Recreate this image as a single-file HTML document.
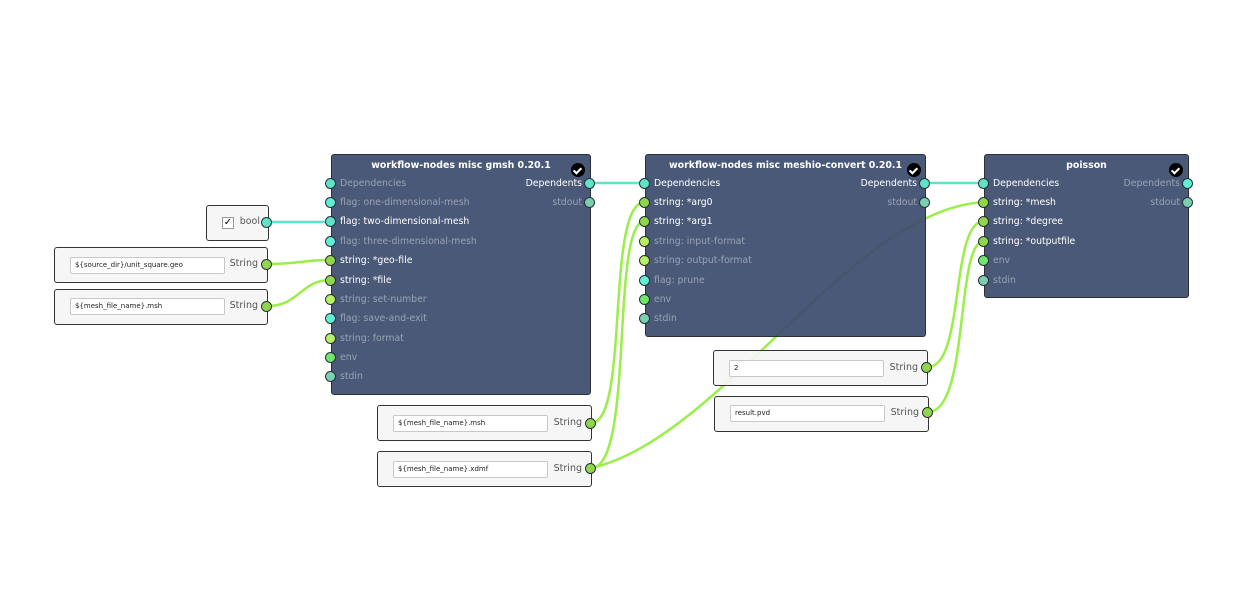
<!DOCTYPE html>
<html><head><meta charset="utf-8">
<style>
body{margin:0;width:1240px;height:600px;background:#fff;position:relative;overflow:hidden;font-family:"DejaVu Sans","Liberation Sans",sans-serif;}
.node{position:absolute;background:rgba(60,76,110,0.93);border:1.5px solid #2a2f38;border-radius:3px;box-sizing:border-box;}
.title{position:absolute;left:0;right:0;top:5px;text-align:center;color:#fff;font-weight:bold;font-size:9.4px;}
.check{position:absolute;width:14px;height:14px;border-radius:50%;background:#000;top:8px;}
.check:after{content:"";position:absolute;left:4px;top:2.5px;width:3px;height:6px;border:solid #fff;border-width:0 2px 2px 0;transform:rotate(45deg);}
.lbl{position:absolute;font-size:9.3px;color:#9aa3b4;white-space:nowrap;line-height:12px;}
.on{color:#fff;}
.r{text-align:right;}
.port{position:absolute;width:9px;height:9px;border-radius:50%;border:1.5px solid #2a2f38;}
.box{position:absolute;background:rgba(245,245,245,0.9);border:1.5px solid #333;border-radius:3px;box-sizing:border-box;}
.inp{position:absolute;background:#fff;border:1px solid #c8c8c8;border-radius:2px;font-size:7px;color:#222;line-height:15px;padding-left:4px;box-sizing:border-box;height:17px;}
.blbl{position:absolute;font-size:9.5px;color:#555;right:9px;}
.c{background:#5fe3c8}.g{background:#8fd64a}.y{background:#b6f163}.e{background:#6ee76a}.s{background:#79cfb0}.f{background:#5eefd5}
</style></head><body>
<svg width="1240" height="600" style="position:absolute;left:0;top:0">
<g fill="none" stroke-width="2.5">
<path d="M590 183 L645 183" stroke="#5fe3c8"/>
<path d="M925 183 L984 183" stroke="#5fe3c8"/>
<path d="M268 222 L331 222" stroke="#5fe3c8"/>
<path d="M267 264 C300 264 300 260 331 260" stroke="#9aee4a"/>
<path d="M267 306 C300 306 300 280 331 280" stroke="#9aee4a"/>
<path d="M591 423 C630 423 605 202 645 202" stroke="#9aee4a"/>
<path d="M591 468 C635 468 610 221 645 221" stroke="#9aee4a"/>
<path d="M591 468 C720 440 850 210 984 202" stroke="#9aee4a"/>
<path d="M928 367 C965 367 950 221 984 221" stroke="#9aee4a"/>
<path d="M928 412 C970 412 955 241 984 241" stroke="#9aee4a"/>
</g></svg>

<!-- gmsh -->
<div class="node" style="left:331px;top:154px;width:260px;height:241px">
<div class="title">workflow-nodes misc gmsh 0.20.1</div><div class="check" style="left:239px"></div>
<div class="lbl" style="left:8px;top:23px">Dependencies</div>
<div class="lbl on r" style="right:8px;top:23px">Dependents</div>
<div class="lbl r" style="right:8px;top:42px">stdout</div>
<div class="lbl" style="left:8px;top:42px">flag: one-dimensional-mesh</div>
<div class="lbl on" style="left:8px;top:61px">flag: two-dimensional-mesh</div>
<div class="lbl" style="left:8px;top:81px">flag: three-dimensional-mesh</div>
<div class="lbl on" style="left:8px;top:100px">string: *geo-file</div>
<div class="lbl on" style="left:8px;top:120px">string: *file</div>
<div class="lbl" style="left:8px;top:139px">string: set-number</div>
<div class="lbl" style="left:8px;top:158px">flag: save-and-exit</div>
<div class="lbl" style="left:8px;top:178px">string: format</div>
<div class="lbl" style="left:8px;top:197px">env</div>
<div class="lbl" style="left:8px;top:216px">stdin</div>
</div>
<!-- meshio -->
<div class="node" style="left:645px;top:154px;width:281px;height:183px">
<div class="title">workflow-nodes misc meshio-convert 0.20.1</div><div class="check" style="left:261px"></div>
<div class="lbl on" style="left:8px;top:23px">Dependencies</div>
<div class="lbl on r" style="right:8px;top:23px">Dependents</div>
<div class="lbl r" style="right:8px;top:42px">stdout</div>
<div class="lbl on" style="left:8px;top:42px">string: *arg0</div>
<div class="lbl on" style="left:8px;top:61px">string: *arg1</div>
<div class="lbl" style="left:8px;top:81px">string: input-format</div>
<div class="lbl" style="left:8px;top:100px">string: output-format</div>
<div class="lbl" style="left:8px;top:120px">flag: prune</div>
<div class="lbl" style="left:8px;top:139px">env</div>
<div class="lbl" style="left:8px;top:158px">stdin</div>
</div>
<!-- poisson -->
<div class="node" style="left:984px;top:154px;width:205px;height:144px">
<div class="title">poisson</div><div class="check" style="left:184px"></div>
<div class="lbl on" style="left:8px;top:23px">Dependencies</div>
<div class="lbl r" style="right:8px;top:23px">Dependents</div>
<div class="lbl r" style="right:8px;top:42px">stdout</div>
<div class="lbl on" style="left:8px;top:42px">string: *mesh</div>
<div class="lbl on" style="left:8px;top:61px">string: *degree</div>
<div class="lbl on" style="left:8px;top:81px">string: *outputfile</div>
<div class="lbl" style="left:8px;top:100px">env</div>
<div class="lbl" style="left:8px;top:120px">stdin</div>
</div>

<!-- input boxes -->
<div class="box" style="left:206px;top:205px;width:63px;height:36px">
<div style="position:absolute;left:15px;top:11px;width:10px;height:10px;border:1px solid #999;background:#fff;font-size:10px;line-height:10px;text-align:center">✓</div>
<div class="blbl" style="top:10px;right:8px">bool</div></div>
<div class="box" style="left:54px;top:247px;width:214px;height:36px">
<div class="inp" style="left:15px;top:9px;width:155px">${source_dir}/unit_square.geo</div><div class="blbl" style="top:10px">String</div></div>
<div class="box" style="left:54px;top:289px;width:214px;height:36px">
<div class="inp" style="left:15px;top:8px;width:155px">${mesh_file_name}.msh</div><div class="blbl" style="top:10px">String</div></div>
<div class="box" style="left:377px;top:405px;width:215px;height:36px">
<div class="inp" style="left:15px;top:9px;width:155px">${mesh_file_name}.msh</div><div class="blbl" style="top:11px">String</div></div>
<div class="box" style="left:377px;top:451px;width:215px;height:36px">
<div class="inp" style="left:15px;top:9px;width:155px">${mesh_file_name}.xdmf</div><div class="blbl" style="top:11px">String</div></div>
<div class="box" style="left:713px;top:350px;width:215px;height:36px">
<div class="inp" style="left:15px;top:9px;width:155px">2</div><div class="blbl" style="top:11px">String</div></div>
<div class="box" style="left:714px;top:396px;width:215px;height:36px">
<div class="inp" style="left:15px;top:8px;width:155px">result.pvd</div><div class="blbl" style="top:10px">String</div></div>

<!-- ports -->
<div class="port c" style="left:325px;top:178px"></div>
<div class="port f" style="left:325px;top:197px"></div>
<div class="port c" style="left:325px;top:216px"></div>
<div class="port f" style="left:325px;top:236px"></div>
<div class="port g" style="left:325px;top:255px"></div>
<div class="port g" style="left:325px;top:275px"></div>
<div class="port y" style="left:325px;top:294px"></div>
<div class="port f" style="left:325px;top:313px"></div>
<div class="port y" style="left:325px;top:333px"></div>
<div class="port e" style="left:325px;top:352px"></div>
<div class="port s" style="left:325px;top:371px"></div>
<div class="port c" style="left:584px;top:178px"></div>
<div class="port s" style="left:584px;top:197px"></div>

<div class="port c" style="left:639px;top:178px"></div>
<div class="port g" style="left:639px;top:197px"></div>
<div class="port g" style="left:639px;top:216px"></div>
<div class="port y" style="left:639px;top:236px"></div>
<div class="port y" style="left:639px;top:255px"></div>
<div class="port f" style="left:639px;top:275px"></div>
<div class="port e" style="left:639px;top:294px"></div>
<div class="port s" style="left:639px;top:313px"></div>
<div class="port c" style="left:919px;top:178px"></div>
<div class="port s" style="left:919px;top:197px"></div>

<div class="port c" style="left:978px;top:178px"></div>
<div class="port g" style="left:978px;top:197px"></div>
<div class="port g" style="left:978px;top:216px"></div>
<div class="port g" style="left:978px;top:236px"></div>
<div class="port e" style="left:978px;top:255px"></div>
<div class="port s" style="left:978px;top:275px"></div>
<div class="port f" style="left:1182px;top:178px"></div>
<div class="port s" style="left:1182px;top:197px"></div>

<div class="port c" style="left:261px;top:217px"></div>
<div class="port g" style="left:261px;top:259px"></div>
<div class="port g" style="left:261px;top:301px"></div>
<div class="port g" style="left:585px;top:418px"></div>
<div class="port g" style="left:585px;top:463px"></div>
<div class="port g" style="left:921px;top:362px"></div>
<div class="port g" style="left:922px;top:407px"></div>
</body></html>
